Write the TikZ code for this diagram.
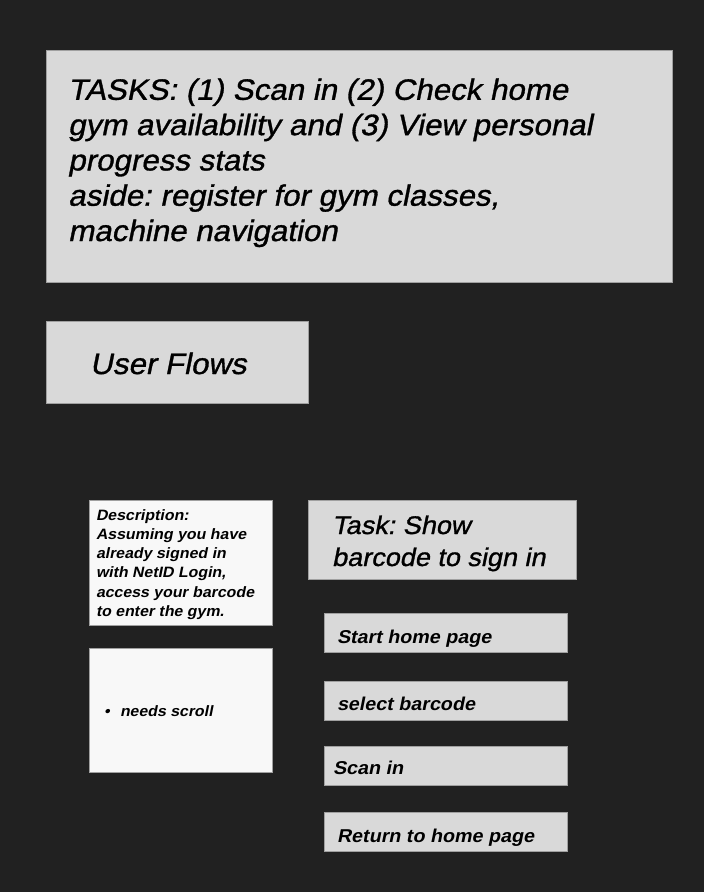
\documentclass[tikz,border=0pt]{standalone}
\usepackage{fontspec}
\setmainfont{Liberation Sans}
\newfontfamily\ff{Liberation Sans}[FakeSlant=0.2, FakeStretch=1.06, UprightFeatures={FakeBold=1.1}]
\frenchspacing
\definecolor{bgc}{HTML}{212121}
\definecolor{boxg}{HTML}{D9D9D9}
\definecolor{boxw}{HTML}{F8F8F8}
\definecolor{edgec}{HTML}{A0A0A0}
\tikzset{
  panel/.style={draw=edgec, line width=0.8pt, fill=boxg},
  wpanel/.style={draw=edgec, line width=0.8pt, fill=boxw},
  txt/.style={inner sep=0pt, outer sep=0pt, align=left, text=black, anchor=base west},
  bigt/.style={txt, font={\fontsize{29.5}{35.3}\ff\frenchspacing}},
  desct/.style={txt, font={\fontsize{15}{19.3}\ff\bfseries\frenchspacing}},
  taskt/.style={txt, font={\fontsize{25.5}{32}\ff\frenchspacing}},
  stept/.style={txt, font={\fontsize{18.6}{22}\ff\bfseries\frenchspacing}},
}
\begin{document}
\begin{tikzpicture}[x=1pt,y=-1pt]
\fill[bgc] (0,0) rectangle (704,892);
\useasboundingbox (0,0) rectangle (704,892);
% boxes
\draw[panel] (46,50) rectangle (672,282);
\draw[panel] (46,321) rectangle (308,403);
\draw[wpanel] (89,500) rectangle (272,625);
\draw[wpanel] (89,648) rectangle (272,772);
\draw[panel] (308,500) rectangle (576,579);
\draw[panel] (324,613) rectangle (567,652);
\draw[panel] (324,681) rectangle (567,720);
\draw[panel] (324,746) rectangle (567,785);
\draw[panel] (324,812) rectangle (567,851);
% texts (base anchor = last line baseline)
\node[bigt] (tasks) at (68,241)
  {TASKS: (1) Scan in (2) Check home\\gym availability and (3) View personal\\progress stats\\aside: register for gym classes,\\machine navigation};
\node[bigt] (flows) at (90,374) {User Flows};
\node[desct] (desc) at (96,616.5)
  {Description:\\Assuming you have\\already signed in\\with NetID Login,\\access your barcode\\to enter the gym.};
\node[desct] (bul) at (104,716) {\textbullet};
\node[desct] (scroll) at (120,716) {needs scroll};
\node[taskt] (task) at (332,566) {Task: Show\\barcode to sign in};
\node[stept] (s1) at (337,643) {Start home page};
\node[stept] (s2) at (337,710) {select barcode};
\node[stept] (s3) at (333,774) {Scan in};
\node[stept] (s4) at (337,842) {Return to home page};
\end{tikzpicture}
\end{document}
